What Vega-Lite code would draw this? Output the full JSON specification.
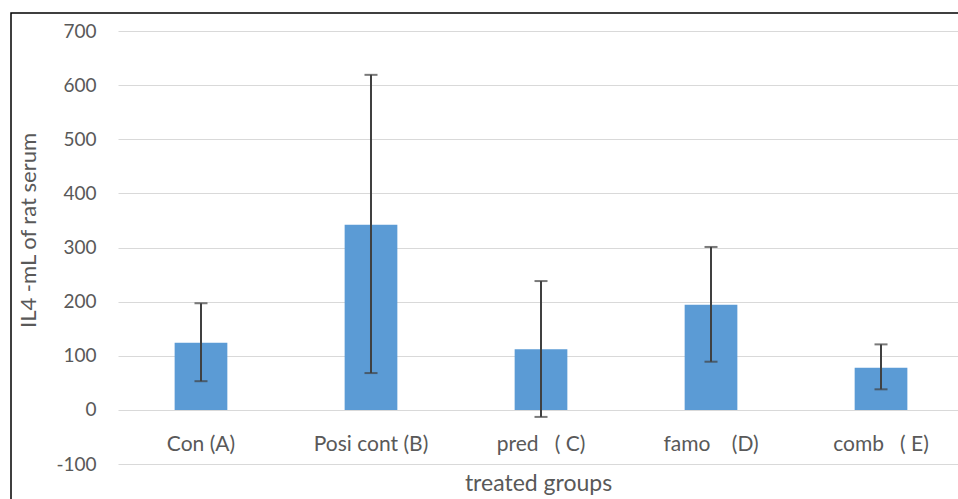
{
  "$schema": "https://vega.github.io/schema/vega-lite/v6.json",
  "autosize": {"type": "none"},
  "padding": {"left": 11, "top": 13, "right": -2, "bottom": -2},
  "width": 949,
  "height": 488,
  "background": "white",
  "config": {
    "view": {"stroke": "#000000", "strokeWidth": 1.5},
    "font": "Lato"
  },
  "data": {
    "values": [
      {"group": "Con (A)", "mean": 124, "lo": 53, "hi": 197},
      {"group": "Posi cont (B)", "mean": 342, "lo": 68, "hi": 619},
      {"group": "pred\u00a0\u00a0 ( C)", "mean": 112, "lo": -13, "hi": 238},
      {"group": "famo\u00a0\u00a0\u00a0 (D)", "mean": 194, "lo": 89, "hi": 301},
      {"group": "comb\u00a0\u00a0 ( E)", "mean": 78, "lo": 38, "hi": 121}
    ]
  },
  "encoding": {
    "x": {
      "field": "group",
      "type": "nominal",
      "sort": null,
      "scale": {"range": [107, 947], "paddingInner": 0.69, "paddingOuter": 0.3155, "align": 0.528},
      "axis": {
        "title": "treated groups",
        "orient": "bottom",
        "offset": -89,
        "domain": false,
        "ticks": false,
        "tickSize": 0,
        "grid": false,
        "labelAngle": 0,
        "labelFontSize": 21,
        "labelColor": "#595959",
        "labelPadding": 21,
        "labelFont": "Lato",
        "titleFont": "Lato",
        "titleFontSize": 23,
        "titleFontWeight": "normal",
        "titleColor": "#595959",
        "titlePadding": 18
      }
    }
  },
  "layer": [
    {
      "mark": {"type": "bar", "color": "#5B9BD5"},
      "encoding": {
        "y": {
          "field": "mean",
          "type": "quantitative",
          "scale": {"domain": [-100, 700], "range": [451, 18], "nice": false, "zero": false},
          "axis": {
            "title": "IL4 -mL of rat serum",
            "values": [-100, 0, 100, 200, 300, 400, 500, 600, 700],
            "labelExpr": "datum.value < 0 ? '-' + abs(datum.value) : '' + datum.value",
            "offset": -107,
            "domain": false,
            "ticks": false,
            "tickSize": 0,
            "grid": true,
            "gridColor": "#d9d9d9",
            "gridWidth": 1,
            "labelFontSize": 19,
            "labelColor": "#595959",
            "labelPadding": 22,
            "titleFontSize": 22,
            "titleFontWeight": "normal",
            "titleColor": "#595959",
            "titlePadding": 15,
            "titleY": 217
          }
        }
      }
    },
    {
      "mark": {"type": "rule", "color": "#404040", "strokeWidth": 2},
      "encoding": {
        "y": {"field": "lo", "type": "quantitative"},
        "y2": {"field": "hi"}
      }
    },
    {
      "mark": {"type": "tick", "color": "#404040", "size": 13, "thickness": 2},
      "encoding": {
        "y": {"field": "hi", "type": "quantitative"}
      }
    },
    {
      "mark": {"type": "tick", "color": "#404040", "size": 13, "thickness": 2},
      "encoding": {
        "y": {"field": "lo", "type": "quantitative"}
      }
    }
  ]
}
